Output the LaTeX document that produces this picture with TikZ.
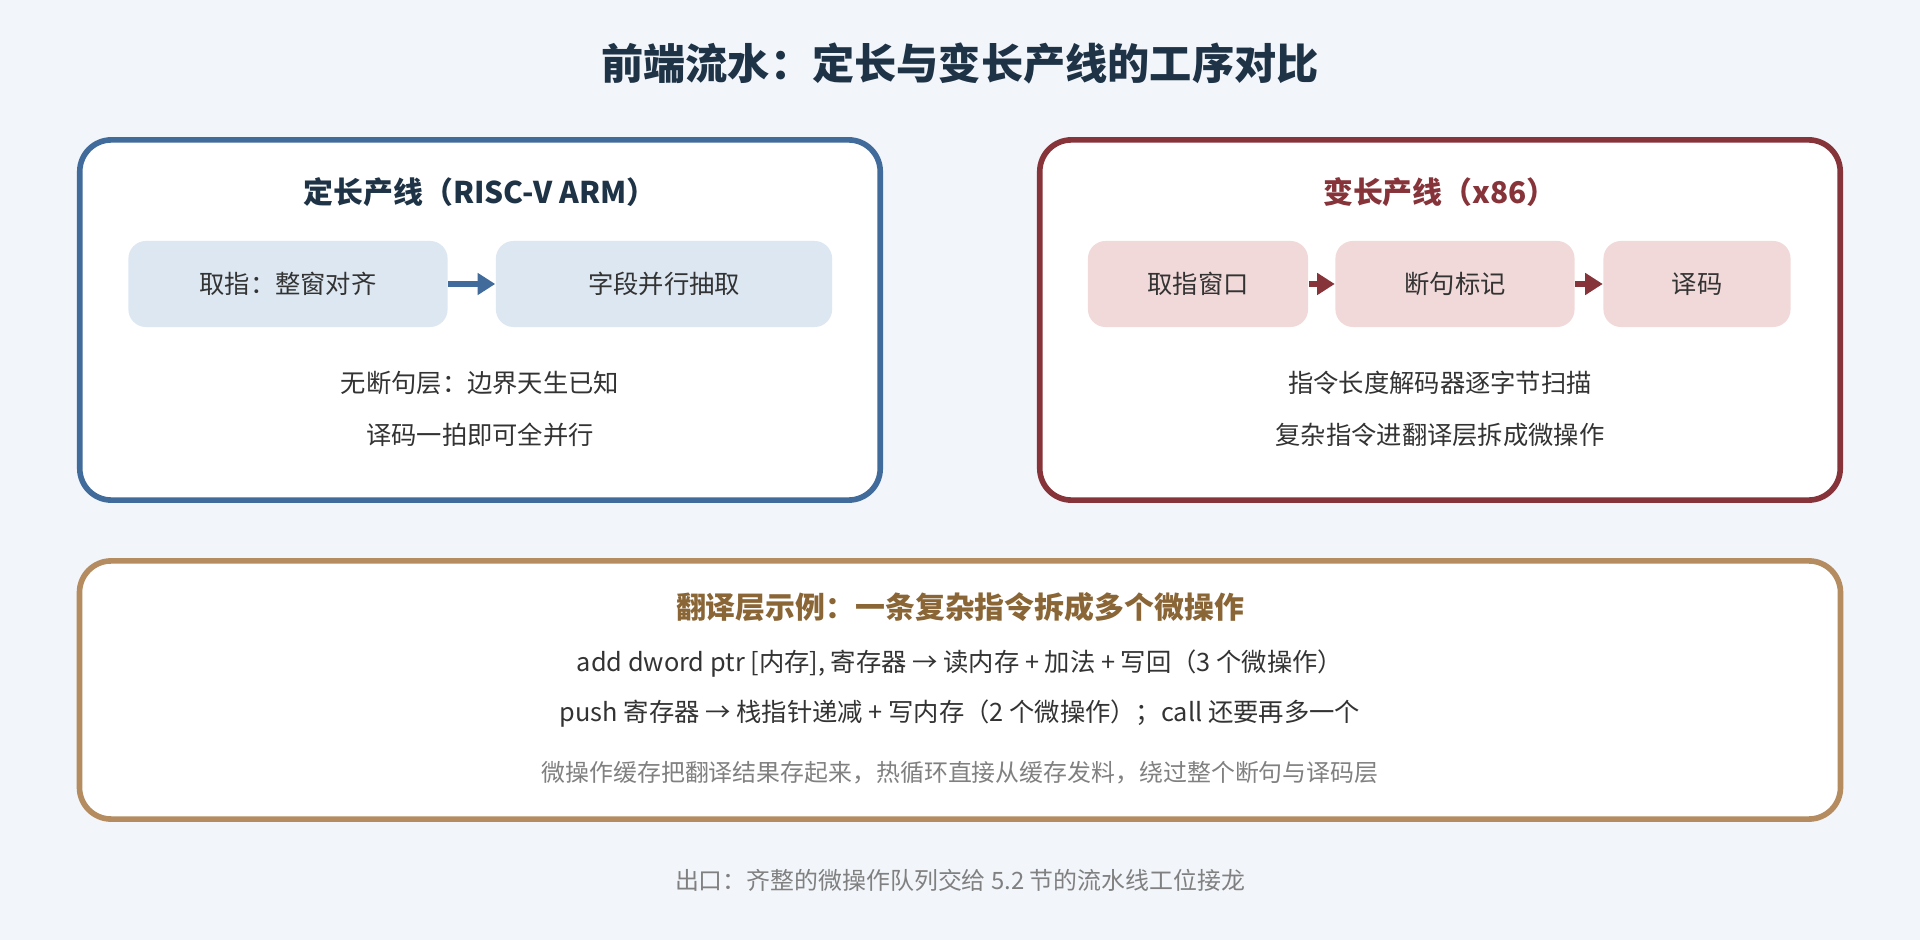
\documentclass[tikz,border=0pt]{standalone}
\usepackage{fontspec}
\setmainfont{Noto Sans CJK SC}
\usetikzlibrary{arrows.meta}
\definecolor{bgc}{HTML}{F2F5FA}
\definecolor{navy}{HTML}{1F3347}
\definecolor{blueline}{HTML}{416B9B}
\definecolor{bluefill}{HTML}{DCE7F2}
\definecolor{redline}{HTML}{86343A}
\definecolor{redfill}{HTML}{F2D9D9}
\definecolor{brownline}{HTML}{B48C5F}
\definecolor{browntxt}{HTML}{8A6535}
\definecolor{bodytxt}{HTML}{333333}
\definecolor{greytxt}{HTML}{808080}
\begin{document}
\begin{tikzpicture}[x=.01cm, y=-.01cm, >={Triangle[length=5pt,width=6pt]}]
  \tikzset{
  panel/.style={draw, line width=1.6pt, rounded corners=9pt, fill=white},
  stage/.style={rectangle, rounded corners=5pt, draw=none, minimum height=0.86cm,
    font=\fontsize{7.2pt}{8.6pt}\selectfont, text=bodytxt},
  head/.style={font=\bfseries\fontsize{8.5pt}{10pt}\selectfont},
  body/.style={font=\fontsize{7.2pt}{8.6pt}\selectfont, text=bodytxt},
  note/.style={font=\fontsize{6.8pt}{8pt}\selectfont, text=greytxt}
}
\fill[bgc] (0,0) rectangle (1920,940);

\node[font=\bfseries\fontsize{12pt}{14pt}\selectfont, text=navy] (title) at (960,64)
  {前端流水：定长与变长产线的工序对比};

% fixed-length line
\node[panel, draw=blueline, minimum width=8.0cm, minimum height=3.6cm] (fixed) at (480,320) {};
\node[head, text=navy] (fixed-head) at (480,192) {定长产线（RISC-V ARM）};
\node[stage, fill=bluefill, minimum width=3.19cm] (fixed-1) at (288,284) {取指：整窗对齐};
\node[stage, fill=bluefill, minimum width=3.36cm] (fixed-2) at (664,284) {字段并行抽取};
\draw[->, blueline, line width=1.8pt] (fixed-1) -- (fixed-2);
\node[body] (fixed-a) at (480,383) {无断句层：边界天生已知};
\node[body] (fixed-b) at (480,435) {译码一拍即可全并行};

% variable-length line
\node[panel, draw=redline, minimum width=8.0cm, minimum height=3.6cm] (var) at (1440,320) {};
\node[head, text=redline] (var-head) at (1440,192) {变长产线（x86）};
\node[stage, fill=redfill, minimum width=2.2cm] (var-1) at (1198,284) {取指窗口};
\node[stage, fill=redfill, minimum width=2.39cm] (var-2) at (1455,284) {断句标记};
\node[stage, fill=redfill, minimum width=1.87cm] (var-3) at (1697,284) {译码};
\draw[->, redline, line width=1.8pt] (var-1) -- (var-2);
\draw[->, redline, line width=1.8pt] (var-2) -- (var-3);
\node[body] (var-a) at (1440,383) {指令长度解码器逐字节扫描};
\node[body] (var-b) at (1440,435) {复杂指令进翻译层拆成微操作};

% translation layer
\node[panel, draw=brownline, minimum width=17.6cm, minimum height=2.58cm] (trans) at (960,690) {};
\node[head, text=browntxt] (trans-head) at (960,607) {翻译层示例：一条复杂指令拆成多个微操作};
\node[body] (trans-a) at (960,664) {add dword ptr [内存], 寄存器 → 读内存 + 加法 + 写回（3 个微操作）};
\node[body] (trans-b) at (960,714) {push 寄存器 → 栈指针递减 + 写内存（2 个微操作）；call 还要再多一个};
\node[note] (trans-c) at (960,773) {微操作缓存把翻译结果存起来，热循环直接从缓存发料，绕过整个断句与译码层};

\node[note] (exit) at (960,880) {出口：齐整的微操作队列交给 5.2 节的流水线工位接龙};
\end{tikzpicture}
\end{document}
